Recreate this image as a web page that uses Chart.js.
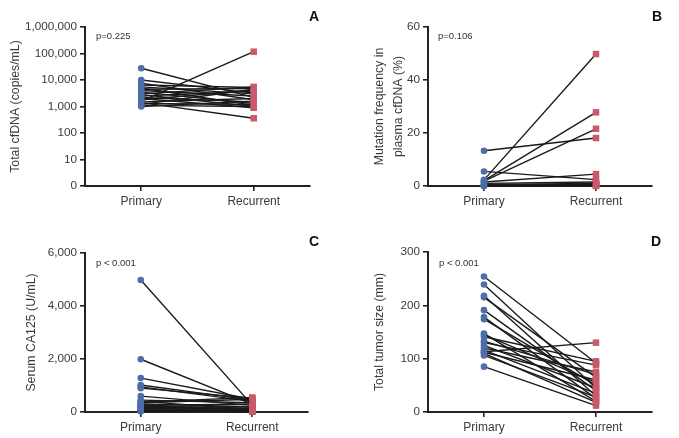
<!DOCTYPE html>
<html><head><meta charset="utf-8">
<script src="https://cdn.jsdelivr.net/npm/chart.js@4/dist/chart.umd.min.js"></script>
<style>
body{margin:0;background:#fff;width:679px;height:438px;overflow:hidden;position:relative;font-family:'Liberation Sans',Arial,sans-serif;}
.c{position:absolute;}
.lab{position:absolute;font-family:'Liberation Sans',Arial,sans-serif;font-weight:bold;font-size:14px;line-height:1;color:#111;}
.p{position:absolute;font-size:9.5px;line-height:1;color:#333;white-space:nowrap;}
</style></head><body>
<div class="c" style="left:0;top:0"><canvas id="cA" width="340" height="219"></canvas></div>
<div class="c" style="left:340px;top:0"><canvas id="cB" width="339" height="219"></canvas></div>
<div class="c" style="left:0;top:219px"><canvas id="cC" width="340" height="219"></canvas></div>
<div class="c" style="left:340px;top:219px"><canvas id="cD" width="339" height="219"></canvas></div>
<div class="lab" style="left:309px;top:8.5px">A</div>
<div class="lab" style="left:652px;top:8.5px">B</div>
<div class="lab" style="left:309px;top:233.5px">C</div>
<div class="lab" style="left:651px;top:233.5px">D</div>
<div class="p" style="left:96px;top:31px">p=0.225</div>
<div class="p" style="left:438px;top:31px">p=0.106</div>
<div class="p" style="left:96px;top:258px">p &lt; 0.001</div>
<div class="p" style="left:439px;top:258px">p &lt; 0.001</div>
<script>
const categories = ['Primary', 'Recurrent'];

// A: Total cfDNA (copies/mL)
const cfdnaPrimary   = [27700, 10000, 7500, 6500, 5500, 5000, 4500, 4000, 3500, 3000, 2800, 2500, 2200, 2000, 1800, 1600, 1500, 1400, 1300, 1200, 1100, 1000];
const cfdnaRecurrent = [2200, 3200, 1800, 5200, 3000, 1100, 4800, 2500, 1300, 5500, 1000, 3800, 1500, 900, 4200, 117000, 2000, 360, 1200, 4500, 1000, 1600];
const cfdnaTickLabels = ['0', '10', '100', '1,000', '10,000', '100,000', '1,000,000'];

// B: Mutation frequency in plasma cfDNA (%)
const mutPrimary   = [13.3, 5.5, 2.3, 2.0, 1.8, 1.5, 1.0, 0.6, 0.4, 0.2, 0.1, 0.0, 0.0];
const mutRecurrent = [18.1, 2.4, 49.8, 27.8, 21.6, 4.5, 1.5, 1.0, 0.5, 0.2, 0.8, 0.3, 0.0];

// C: Serum CA125 (U/mL)
const caPrimary   = [4980, 1990, 1280, 1020, 950, 900, 600, 450, 400, 370, 350, 300, 280, 250, 220, 200, 180, 150, 120, 100, 80, 60, 40, 20];
const caRecurrent = [260, 300, 480, 450, 400, 520, 250, 350, 100, 550, 480, 200, 50, 300, 120, 80, 200, 30, 60, 150, 20, 10, 40, 90];

// D: Total tumor size (mm)
const tumorPrimary   = [254, 239, 218, 215, 191, 178, 174, 147, 141, 133, 125, 120, 116, 113, 112, 110, 106, 85, 145, 130];
const tumorRecurrent = [92, 45, 30, 65, 40, 25, 50, 20, 95, 70, 45, 75, 35, 130, 60, 18, 28, 12, 55, 88];

const BLUE = '#4d6ea8', RED = '#c85a6b', INK = '#222';
const FONT = "'Liberation Sans',Arial,sans-serif";

function makeChart(id, prim, rec, area, yopts, title, titlePad) {
  const canvas = document.getElementById(id);
  const W = canvas.width, H = canvas.height;
  const datasets = prim.map((p, i) => ({
    data: [p, rec[i]],
    borderColor: '#1a1a1a',
    borderWidth: 1.4,
    pointStyle: ['circle', 'rect'],
    pointRadius: [3.3, 4.6],
    pointBackgroundColor: [BLUE, RED],
    pointBorderWidth: 0,
    clip: false
  }));
  return new Chart(canvas, {
    type: 'line',
    data: { labels: categories, datasets },
    options: {
      responsive: false, animation: false,
      layout: { padding: { left: 0, top: area.top, right: W - area.right, bottom: 0 } },
      plugins: { legend: { display: false }, tooltip: { enabled: false } },
      scales: {
        x: {
          offset: true,
          grid: { display: true, drawOnChartArea: false, drawTicks: true, tickLength: 5, color: INK, lineWidth: 1.6 },
          border: { display: true, color: INK, width: 2 },
          ticks: { color: '#3a3a3a', font: { family: FONT, size: 12 }, padding: 3 },
          afterFit: s => { s.height = H - area.bottom; }
        },
        y: Object.assign({
          grid: { display: true, drawOnChartArea: false, drawTicks: true, tickLength: 5, color: INK, lineWidth: 1.6 },
          border: { display: true, color: INK, width: 2 },
          title: { display: true, text: title, color: '#3a3a3a', font: { family: FONT, size: 12.3, lineHeight: 1.55 }, padding: { top: titlePad, bottom: 0 } },
          afterFit: s => { s.width = area.left; }
        }, yopts)
      }
    }
  });
}

const tickFont = { family: FONT, size: 11.7 };

makeChart('cA', cfdnaPrimary.map(Math.log10), cfdnaRecurrent.map(Math.log10),
  { left: 85, top: 27, right: 310, bottom: 186 },
  { min: 0, max: 6, ticks: { stepSize: 1, color: '#3a3a3a', font: tickFont, padding: 3,
      callback: v => cfdnaTickLabels[v] } },
  'Total cfDNA (copies/mL)', 6);

makeChart('cB', mutPrimary, mutRecurrent,
  { left: 88, top: 27, right: 312, bottom: 186 },
  { min: 0, max: 60, ticks: { stepSize: 20, color: '#3a3a3a', font: tickFont, padding: 3 } },
  ['Mutation frequency in', 'plasma cfDNA (%)'], 30);

makeChart('cC', caPrimary, caRecurrent,
  { left: 85, top: 34, right: 308, bottom: 193 },
  { min: 0, max: 6000, ticks: { stepSize: 2000, color: '#3a3a3a', font: tickFont, padding: 3 } },
  'Serum CA125 (U/mL)', 22);

makeChart('cD', tumorPrimary, tumorRecurrent,
  { left: 88, top: 33, right: 312, bottom: 193 },
  { min: 0, max: 300, ticks: { stepSize: 100, color: '#3a3a3a', font: tickFont, padding: 3 } },
  'Total tumor size (mm)', 30);
</script>
</body></html>
